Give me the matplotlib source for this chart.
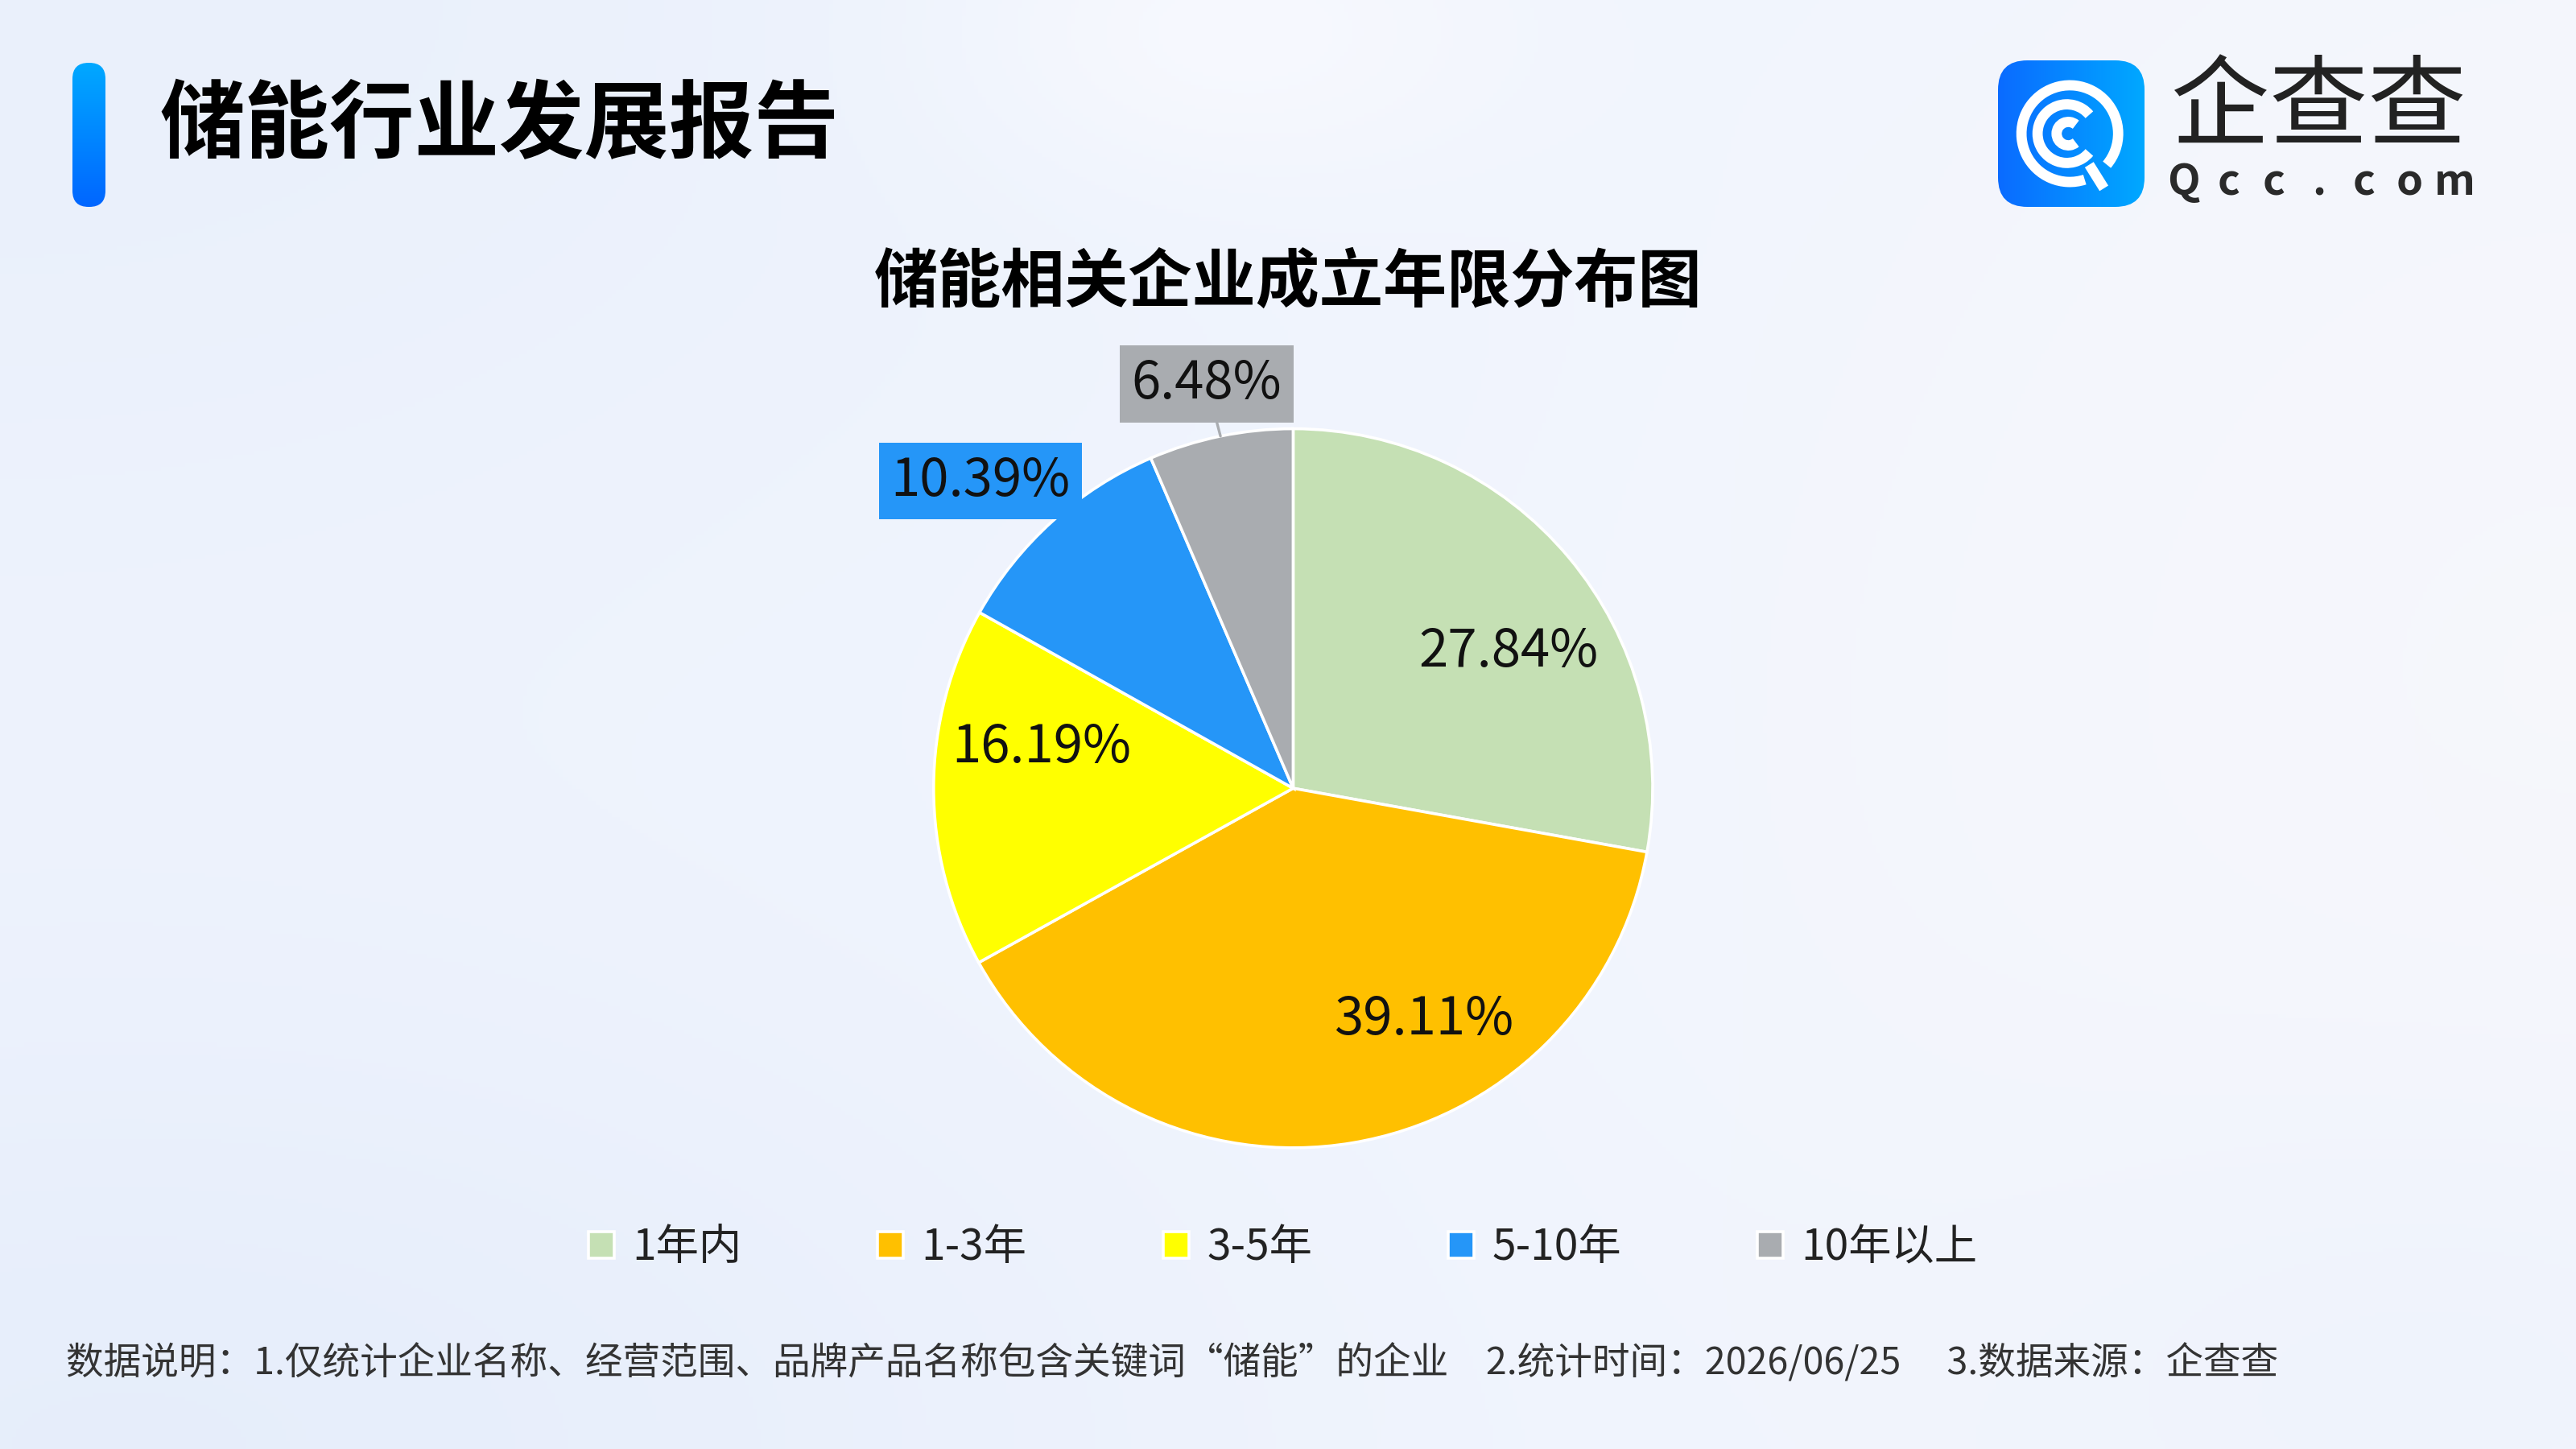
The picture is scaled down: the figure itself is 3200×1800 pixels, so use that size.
import numpy as np
import matplotlib.pyplot as plt
from matplotlib.patches import FancyBboxPatch, Arc

plt.rcParams['font.family'] = ['Noto Sans CJK SC', 'DejaVu Sans']

# data
categories = ['1年内', '1-3年', '3-5年', '5-10年', '10年以上']
shares = [27.84, 39.11, 16.19, 10.39, 6.48]
pct_labels = ['27.84%', '39.11%', '16.19%', '10.39%', '6.48%']
colors = ['#c5e0b4', '#ffc000', '#ffff00', '#2596f8', '#a9acb0']
boxed = [False, False, False, True, True]
leader = [False, False, False, False, True]
# label placement: (radius, angle shift from wedge middle in degrees)
label_pos = [(0.71, -7.5), (0.74, 20.0), (0.71, -9.1), (1.22, 3.5), (1.15, 0.4)]

title = '储能行业发展报告'
subtitle = '储能相关企业成立年限分布图'
footnote = ('数据说明：1.仅统计企业名称、经营范围、品牌产品名称包含关键词“储能”的企业\u3000'
            '2.统计时间：2026/06/25\u3000 3.数据来源：企查查')

fig = plt.figure(figsize=(16, 9), dpi=200)

# ---- background ----
bg = fig.add_axes([0, 0, 1, 1], zorder=-10)
yy, xx = np.mgrid[0:1:360j, 0:1:640j]
img = np.ones((360, 640, 3)) * np.array([0.945, 0.961, 0.996])


def blob(img, cx, cy, sx, sy, col, k=1.0):
    w = k * np.exp(-((xx - cx) ** 2 / (2 * sx ** 2) + (yy - cy) ** 2 / (2 * sy ** 2)))
    return img + (np.array(col) - img) * w[..., None]


img = blob(img, 0.0, 0.0, 0.35, 0.35, [0.918, 0.943, 0.986])
img = blob(img, 0.05, 1.0, 0.30, 0.25, [0.905, 0.933, 0.984])
img = blob(img, 1.0, 0.5, 0.25, 0.5, [0.965, 0.969, 0.988])
img = blob(img, 0.48, 0.02, 0.08, 0.08, [0.975, 0.980, 0.998], 0.8)
img = blob(img, 0.95, 0.95, 0.15, 0.15, [0.928, 0.947, 0.988], 0.6)
bg.imshow(np.clip(img, 0, 1), extent=[0, 1, 0, 1], aspect='auto', origin='upper')
bg.axis('off')

# ---- title bar ----
bar = fig.add_axes([90 / 3200, 1 - 257 / 1800, 41 / 3200, 179 / 1800])
bar.set_xlim(0, 41)
bar.set_ylim(0, 179)
bar.axis('off')
grad = np.linspace(0, 1, 100)[:, None]
bar_cols = np.array([0.0, 0.66, 1.0]) * (1 - grad[..., None]) + np.array([0.0, 0.40, 1.0]) * grad[..., None]
bar_patch = FancyBboxPatch((0, 0), 41, 179, boxstyle='round,pad=0,rounding_size=20',
                           fc='none', ec='none')
bar.add_patch(bar_patch)
im = bar.imshow(np.repeat(bar_cols, 2, axis=1), extent=[0, 41, 0, 179], aspect='auto', origin='upper')
im.set_clip_path(bar_patch)

fig.text(0.0619, 0.913, title, fontsize=38, fontweight='heavy', color='black',
         ha='left', va='center')

# ---- logo ----
logo = fig.add_axes([2482 / 3200, 1 - 257 / 1800, 182 / 3200, 182 / 1800])
logo.set_xlim(0, 1)
logo.set_ylim(0, 1)
logo.axis('off')
gx = np.linspace(0, 1, 100)[None, :]
logo_cols = np.array([0.04, 0.42, 1.0]) * (1 - gx[..., None]) + np.array([0.0, 0.66, 1.0]) * gx[..., None]
logo_patch = FancyBboxPatch((0, 0), 1, 1, boxstyle='round,pad=0,rounding_size=0.2',
                            fc='none', ec='none')
logo.add_patch(logo_patch)
im = logo.imshow(np.repeat(logo_cols, 2, axis=0), extent=[0, 1, 0, 1], aspect='auto', origin='upper')
im.set_clip_path(logo_patch)
logo.add_patch(Arc((0.49, 0.5), 0.66, 0.66, theta1=-40, theta2=288, color='white', lw=4.6))
logo.add_patch(Arc((0.47, 0.5), 0.40, 0.40, theta1=40, theta2=320, color='white', lw=4.6))
logo.add_patch(Arc((0.48, 0.5), 0.16, 0.16, theta1=50, theta2=310, color='white', lw=4.6))
ang = np.deg2rad(-58)
logo.plot([0.49 + 0.25 * np.cos(ang), 0.49 + 0.44 * np.cos(ang)],
          [0.5 + 0.25 * np.sin(ang), 0.5 + 0.44 * np.sin(ang)],
          color='white', lw=4.6, solid_capstyle='butt')

fig.text(0.900, 0.924, '企查查', fontsize=44, color='#222222', ha='center', va='center')
for ch, x in zip('Qcc.com', np.linspace(0.8476, 0.9528, 7)):
    fig.text(x, 0.874, ch, fontsize=19, fontweight='bold', color='#2a2a2a',
             ha='center', va='center')

# ---- subtitle ----
fig.text(0.5, 0.805, subtitle, fontsize=28.5, fontweight='bold', color='black',
         ha='center', va='center')

# ---- pie ----
ax = fig.add_axes([0.2785, 0.059, 0.447, 0.794])
wedges, _ = ax.pie(shares, colors=colors, startangle=90, counterclock=False,
                   radius=1, wedgeprops=dict(edgecolor='white', linewidth=1.3))
ax.set_xlim(-1.6, 1.6)
ax.set_ylim(-1.6, 1.6)
ax.axis('off')

for w, txt, (r, shift), is_box, has_line, col in zip(wedges, pct_labels, label_pos,
                                                     boxed, leader, colors):
    mid = np.deg2rad((w.theta1 + w.theta2) / 2)
    lab = np.deg2rad((w.theta1 + w.theta2) / 2 + shift)
    xy_text = (r * np.cos(lab), r * np.sin(lab))
    edge = (np.cos(mid), np.sin(mid))
    kw = {}
    if is_box:
        kw['bbox'] = dict(boxstyle='square,pad=0.22', fc=col, ec='none')
    if has_line:
        kw['arrowprops'] = dict(arrowstyle='-', color=col, lw=1.2, shrinkA=0, shrinkB=0)
    ax.annotate(txt, xy=edge, xytext=xy_text, ha='center', va='center',
                fontsize=23.5, color='#111111', zorder=5, **kw)

# ---- legend ----
fig.legend(wedges, categories, loc='center', bbox_to_anchor=(0.498, 0.139), ncol=5,
           frameon=False, fontsize=19.2, handlelength=0.6, handleheight=0.6,
           handletextpad=0.42, columnspacing=3.17, labelcolor='#222222')

# ---- footnote ----
fig.text(0.0255, 0.059, footnote, fontsize=16.8, color='#333333', ha='left', va='center')

fig.savefig('out.png', dpi=200)
